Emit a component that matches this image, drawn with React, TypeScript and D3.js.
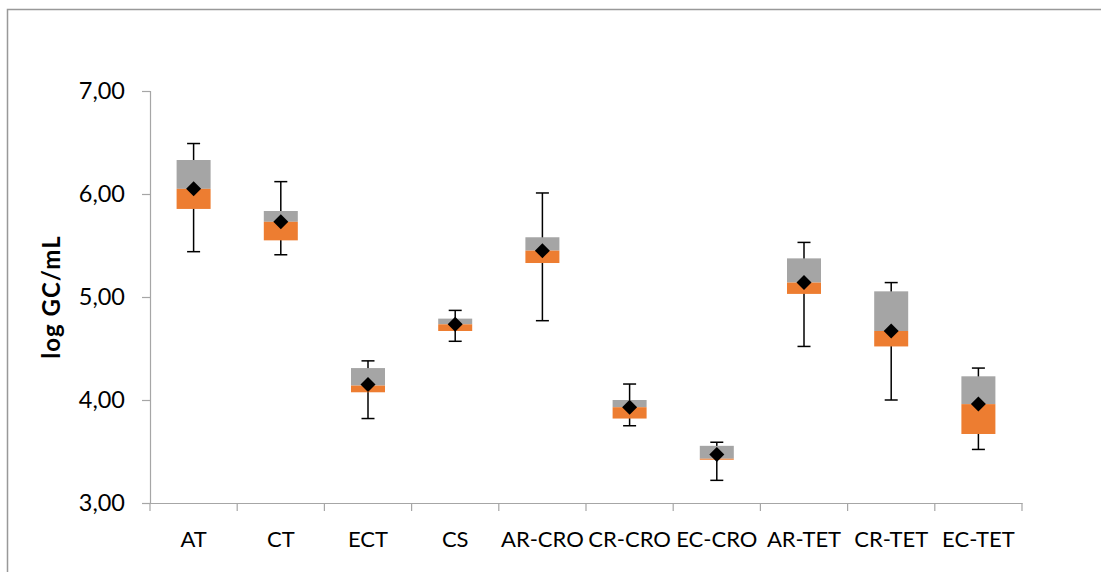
import React, { useEffect, useRef } from "react";
import * as d3 from "d3";

const categories = ["AT", "CT", "ECT", "CS", "AR-CRO", "CR-CRO", "EC-CRO", "AR-TET", "CR-TET", "EC-TET"];
const minValues = [5.44, 5.41, 3.82, 4.57, 4.77, 3.75, 3.22, 4.52, 4.0, 3.52];
const q1Values = [5.855, 5.55, 4.075, 4.67, 5.33, 3.82, 3.42, 5.03, 4.52, 3.67];
const medianValues = [6.05, 5.73, 4.14, 4.735, 5.45, 3.93, 3.43, 5.14, 4.67, 3.96];
const q3Values = [6.33, 5.835, 4.31, 4.79, 5.58, 4.0, 3.555, 5.375, 5.055, 4.23];
const maxValues = [6.49, 6.12, 4.38, 4.87, 6.01, 4.155, 3.59, 5.53, 5.14, 4.31];
const meanValues = [6.05, 5.73, 4.15, 4.735, 5.45, 3.93, 3.47, 5.14, 4.67, 3.96];
const yTicks = [3, 4, 5, 6, 7];

const App: React.FC = () => {
  const svgRef = useRef<SVGSVGElement>(null);
  const width = 1101;
  const height = 572;
  const margin = { top: 91, right: 79, bottom: 69, left: 150 };
  const font = "Lato, 'Open Sans', sans-serif";

  useEffect(() => {
    document.body.style.margin = "0";
    document.body.style.overflow = "hidden";

    const svg = d3.select(svgRef.current);
    svg.selectAll("*").remove();

    const x = d3.scaleBand().domain(categories).range([margin.left, width - margin.right]);
    const y = d3.scaleLinear().domain([3, 7]).range([height - margin.bottom, margin.top]);
    const fmt = (v: number) => v.toFixed(2).replace(".", ",");
    const axisColor = "#a6a6a6";

    // outer frame, only left and top edges are inside the picture
    svg.append("path")
      .attr("d", `M7.5,${height + 10}V9.5H${width + 10}`)
      .attr("fill", "none").attr("stroke", "#999").attr("stroke-width", 1.5);

    // y axis
    const yAxis = svg.append("g")
      .attr("transform", `translate(${margin.left},0)`)
      .call(d3.axisLeft(y).tickValues(yTicks).tickFormat((d) => fmt(+d)).tickSizeOuter(0).tickSize(8).tickPadding(17));
    yAxis.select(".domain").attr("stroke", axisColor).attr("stroke-width", 1.2);
    yAxis.selectAll(".tick line").attr("stroke", axisColor).attr("stroke-width", 1.2);
    yAxis.selectAll(".tick text").attr("fill", "#000").attr("font-size", 23.5).attr("font-family", font);

    // x axis with ticks at band edges
    const xAxis = svg.append("g")
      .attr("transform", `translate(0,${height - margin.bottom})`)
      .call(d3.axisBottom(x).tickSize(0).tickPadding(28));
    xAxis.select(".domain").attr("stroke", axisColor).attr("stroke-width", 1.2);
    xAxis.selectAll(".tick text").attr("fill", "#000").attr("font-size", 22).attr("font-family", font);
    const edges = categories.map((c) => x(c) as number).concat([width - margin.right]);
    xAxis.selectAll(".edge")
      .data(edges)
      .enter()
      .append("line")
      .attr("x1", (d) => d).attr("x2", (d) => d)
      .attr("y1", 0).attr("y2", 8)
      .attr("stroke", axisColor).attr("stroke-width", 1.2);

    // y label
    svg.append("text")
      .attr("transform", `translate(60,${(margin.top + height - margin.bottom) / 2}) rotate(-90)`)
      .attr("text-anchor", "middle")
      .attr("font-family", font)
      .attr("font-weight", "bold")
      .attr("font-size", 24)
      .attr("letter-spacing", 1)
      .text("log GC/mL");

    const boxW = 34;
    const capW = 13;
    const cx = (i: number) => (x(categories[i]) as number) + x.bandwidth() / 2;
    const idx = d3.range(categories.length);

    const g = svg.append("g");

    // whiskers
    g.selectAll(".whisker")
      .data(idx)
      .enter()
      .append("line")
      .attr("x1", cx).attr("x2", cx)
      .attr("y1", (i) => y(maxValues[i])).attr("y2", (i) => y(minValues[i]))
      .attr("stroke", "#000").attr("stroke-width", 1.5);
    g.selectAll(".capTop")
      .data(idx)
      .enter()
      .append("line")
      .attr("x1", (i) => cx(i) - capW / 2).attr("x2", (i) => cx(i) + capW / 2)
      .attr("y1", (i) => y(maxValues[i])).attr("y2", (i) => y(maxValues[i]))
      .attr("stroke", "#000").attr("stroke-width", 1.5);
    g.selectAll(".capBottom")
      .data(idx)
      .enter()
      .append("line")
      .attr("x1", (i) => cx(i) - capW / 2).attr("x2", (i) => cx(i) + capW / 2)
      .attr("y1", (i) => y(minValues[i])).attr("y2", (i) => y(minValues[i]))
      .attr("stroke", "#000").attr("stroke-width", 1.5);

    // upper box (median -> q3)
    g.selectAll(".upper")
      .data(idx)
      .enter()
      .append("rect")
      .attr("x", (i) => cx(i) - boxW / 2)
      .attr("width", boxW)
      .attr("y", (i) => y(q3Values[i]))
      .attr("height", (i) => y(medianValues[i]) - y(q3Values[i]))
      .attr("fill", "#a5a5a5");

    // lower box (q1 -> median)
    g.selectAll(".lower")
      .data(idx)
      .enter()
      .append("rect")
      .attr("x", (i) => cx(i) - boxW / 2)
      .attr("width", boxW)
      .attr("y", (i) => y(medianValues[i]))
      .attr("height", (i) => y(q1Values[i]) - y(medianValues[i]))
      .attr("fill", "#ed7d31");

    // mean markers
    g.selectAll(".mean")
      .data(idx)
      .enter()
      .append("path")
      .attr("transform", (i) => `translate(${cx(i)},${y(meanValues[i])})`)
      .attr("d", "M0,-7.5L7.5,0L0,7.5L-7.5,0Z")
      .attr("fill", "#000");
  }, []);

  return (
    <svg
      ref={svgRef}
      width={width}
      height={height}
      style={{ position: "absolute", left: 0, top: 0, display: "block", background: "#fff" }}
    ></svg>
  );
};

export default App;
